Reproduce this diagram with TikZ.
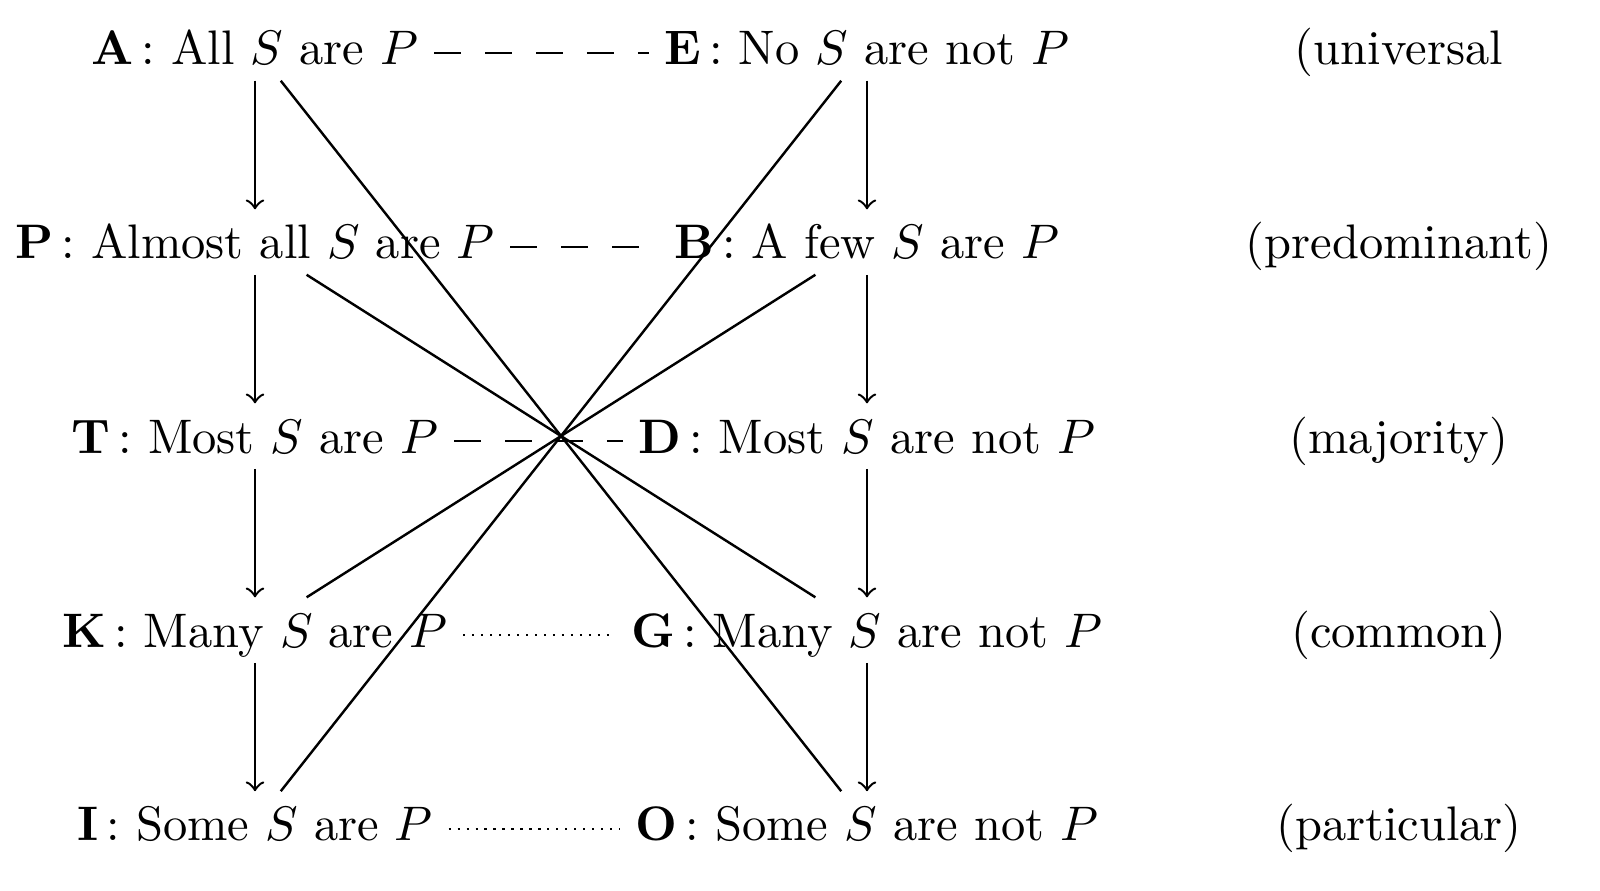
\documentclass[tikz,border=0pt]{standalone}
\usetikzlibrary{positioning}

\begin{document}
\begin{tikzpicture}
[line width=.5pt,
prop/.style={inner xsep=3pt,inner ysep=3pt,text height=7pt,text depth=0pt},
imp/.style={->},
contra/.style={},
sub/.style={dash pattern=on 5.5pt off 5pt},
subdot/.style={line width=.45pt,dash pattern=on .45pt off 1.4pt}
]
\useasboundingbox (0,0) rectangle (11.595,-6.457);
%% left column
\node[prop] (A) at (1.848,-0.348) {\textbf{A}\,: All $S$ are $P$};
\node[prop] (P) at (1.848,-1.754) {\textbf{P}\,: Almost all $S$ are $P$};
\node[prop] (T) at (1.848,-3.160) {\textbf{T}\,: Most $S$ are $P$};
\node[prop] (K) at (1.848,-4.566) {\textbf{K}\,: Many $S$ are $P$};
\node[prop] (I) at (1.848,-5.971) {\textbf{I}\,: Some $S$ are $P$};
%% right column
\node[prop] (E) at (6.283,-0.348) {\textbf{E}\,: No $S$ are not $P$};
\node[prop] (B) at (6.283,-1.754) {\textbf{B}\,: A few $S$ are $P$};
\node[prop] (D) at (6.283,-3.160) {\textbf{D}\,: Most $S$ are not $P$};
\node[prop] (G) at (6.283,-4.566) {\textbf{G}\,: Many $S$ are not $P$};
\node[prop] (O) at (6.283,-5.971) {\textbf{O}\,: Some $S$ are not $P$};
%% kinds
\node[prop] (uni) at (10.138,-0.348) {(universal};
\node[prop] (pre) at (10.138,-1.754) {(predominant)};
\node[prop] (maj) at (10.138,-3.160) {(majority)};
\node[prop] (com) at (10.138,-4.566) {(common)};
\node[prop] (par) at (10.138,-5.971) {(particular)};
%% implications
\draw[imp] (A) -- (P);
\draw[imp] (P) -- (T);
\draw[imp] (T) -- (K);
\draw[imp] (K) -- (I);
\draw[imp] (E) -- (B);
\draw[imp] (B) -- (D);
\draw[imp] (D) -- (G);
\draw[imp] (G) -- (O);
%% contradictories
\draw[contra] (A) -- (O);
\draw[contra] (E) -- (I);
\draw[contra] (P) -- (G);
\draw[contra] (B) -- (K);
%% contraries (on the math axis)
\draw[sub] ([yshift=-1pt]A.east) -- ([yshift=-1pt]E.west);
\draw[sub] ([yshift=-1pt]P.east) -- ([yshift=-1pt]B.west);
\draw[sub] ([yshift=-1pt]T.east) -- ([yshift=-1pt]D.west);
%% subcontraries
\draw[subdot] ([yshift=-1pt]K.east) -- ([yshift=-1pt]G.west);
\draw[subdot] ([yshift=-1pt]I.east) -- ([yshift=-1pt]O.west);
\end{tikzpicture}
\end{document}
